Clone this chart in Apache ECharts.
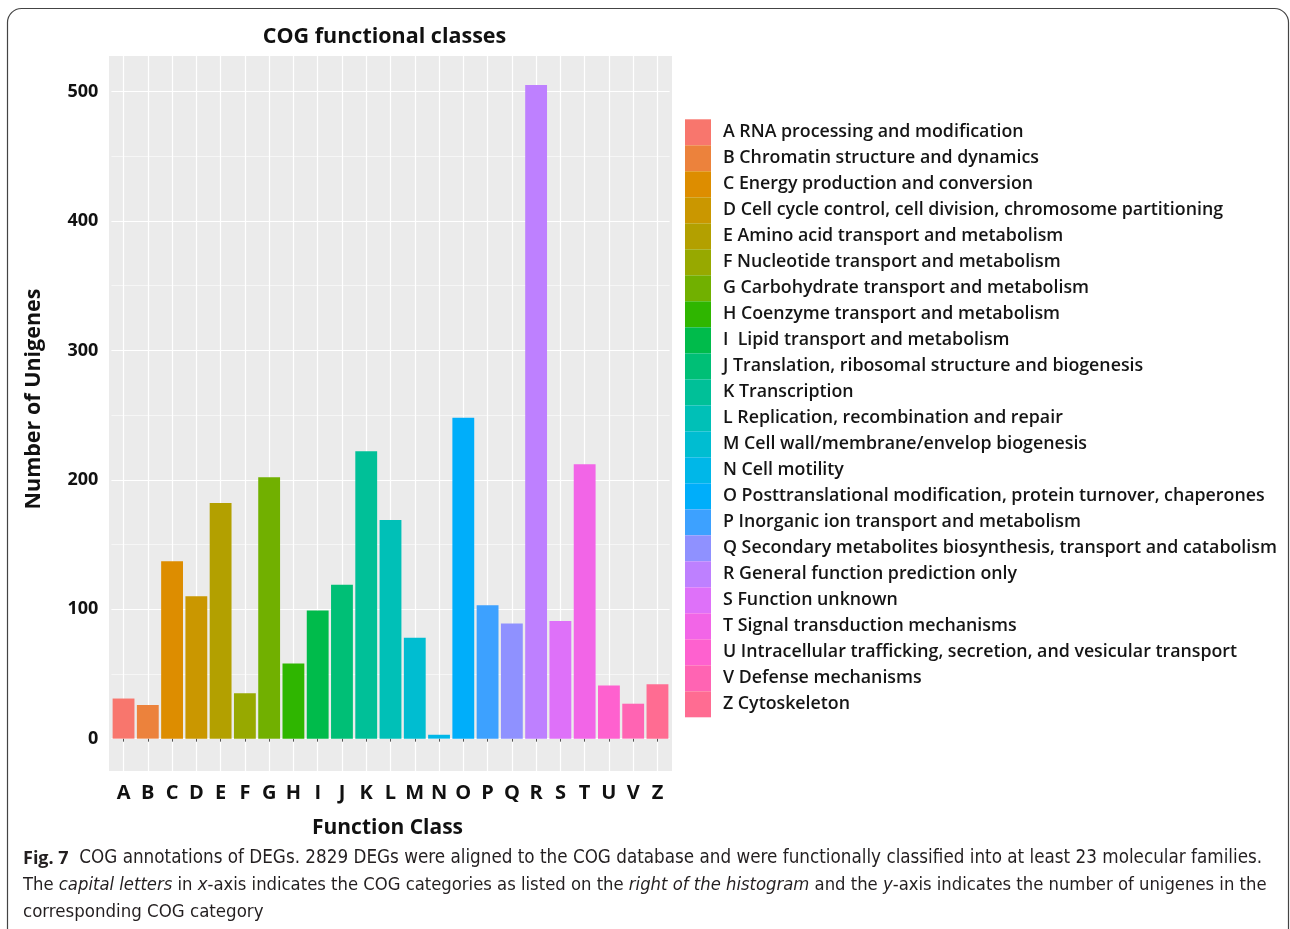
<!DOCTYPE html>
<html>
<head>
<meta charset="utf-8">
<title>COG functional classes</title>
<script src="https://cdn.jsdelivr.net/npm/echarts@6/dist/echarts.min.js"></script>
<style>
  html, body { margin: 0; padding: 0; background: #ffffff; }
  #chart { width: 1290px; height: 929px; }
</style>
</head>
<body>
<div id="chart"></div>
<script>
// COG category letters (x axis)
const categories = ['A','B','C','D','E','F','G','H','I','J','K','L','M','N','O','P','Q','R','S','T','U','V','Z'];

// Category descriptions shown in the key
const descriptions = [
  'RNA processing and modification',
  'Chromatin structure and dynamics',
  'Energy production and conversion',
  'Cell cycle control, cell division, chromosome partitioning',
  'Amino acid transport and metabolism',
  'Nucleotide transport and metabolism',
  'Carbohydrate transport and metabolism',
  'Coenzyme transport and metabolism',
  ' Lipid transport and metabolism',
  'Translation, ribosomal structure and biogenesis',
  'Transcription',
  'Replication, recombination and repair',
  'Cell wall/membrane/envelop biogenesis',
  'Cell motility',
  'Posttranslational modification, protein turnover, chaperones',
  'Inorganic ion transport and metabolism',
  'Secondary metabolites biosynthesis, transport and catabolism',
  'General function prediction only',
  'Function unknown',
  'Signal transduction mechanisms',
  'Intracellular trafficking, secretion, and vesicular transport',
  'Defense mechanisms',
  'Cytoskeleton'
];

// Number of unigenes per category
const counts = [31, 26, 137, 110, 182, 35, 202, 58, 99, 119, 222, 169, 78, 3, 248, 103, 89, 505, 91, 212, 41, 27, 42];

// y-axis tick labels
const yTicks = [0, 100, 200, 300, 400, 500];

// Evenly spaced HCL hues (L=65, C=100), converted to sRGB
function hclToHex(h, c, l) {
  const hr = h * Math.PI / 180;
  const U = c * Math.cos(hr), V = c * Math.sin(hr);
  const Xn = 95.047, Yn = 100.0, Zn = 108.883;
  const den = Xn + 15 * Yn + 3 * Zn;
  const un = 4 * Xn / den, vn = 9 * Yn / den;
  const Y = Yn * (l > 7.999592 ? Math.pow((l + 16) / 116, 3) : l / 903.3);
  const u = U / (13 * l) + un, v = V / (13 * l) + vn;
  const X = 9.0 * Y * u / (4 * v);
  const Z = -X / 3 - 5 * Y + 3 * Y / v;
  const lin = [
    ( 3.240479 * X - 1.537150 * Y - 0.498535 * Z) / Yn,
    (-0.969256 * X + 1.875992 * Y + 0.041556 * Z) / Yn,
    ( 0.055648 * X - 0.204043 * Y + 1.057311 * Z) / Yn
  ];
  return '#' + lin.map(t => {
    let g = t > 0.00304 ? 1.055 * Math.pow(t, 1 / 2.4) - 0.055 : 12.92 * t;
    g = Math.max(0, Math.min(1, g));
    return Math.round(g * 255).toString(16).padStart(2, '0');
  }).join('');
}
const n = categories.length;
const palette = categories.map((_, i) => hclToHex(15 + i * 360 / n, 100, 65));

// y axis runs on a 25-unit step; only whole hundreds (major) and fifties (minor) get a line
const Y_MIN = -25, Y_MAX = 527.5, Y_STEP = 25;
const tickCount = Math.floor((Y_MAX - Y_MIN) / Y_STEP) + 2;
const splitColors = [];
for (let i = 0; i < tickCount; i++) {
  const v = Y_MIN + i * Y_STEP;
  if (i === tickCount - 1) { splitColors.push('rgba(0,0,0,0)'); continue; }
  if (v >= 0 && yTicks.includes(v)) splitColors.push('#ffffff');
  else if (v > 0 && v % 50 === 0) splitColors.push('#f6f6f6');
  else splitColors.push('rgba(0,0,0,0)');
}

const FONT = "'Open Sans', 'DejaVu Sans', sans-serif";
const CAPTION_FONT = "'Liberation Sans Narrow', 'DejaVu Sans Condensed', 'Open Sans', sans-serif";

// One stacked series per category so each one gets its own key entry
const series = categories.map((c, i) => ({
  name: c + ' ' + descriptions[i],
  type: 'bar',
  stack: 'cog',
  barWidth: '90%',
  itemStyle: { color: palette[i] },
  emphasis: { disabled: true },
  data: categories.map((_, j) => (j === i ? counts[i] : '-'))
}));

const chart = echarts.init(document.getElementById('chart'), null, { renderer: 'canvas' });

chart.setOption({
  animation: false,
  backgroundColor: '#ffffff',
  title: {
    text: 'COG functional classes',
    left: 384.5,
    top: 25.5,
    padding: 0,
    textAlign: 'center',
    textStyle: { fontFamily: FONT, fontSize: 21.5, fontWeight: 'bold', color: '#111111' }
  },
  legend: {
    orient: 'vertical',
    left: 685,
    top: 119.3,
    padding: 0,
    itemWidth: 26,
    itemHeight: 26,
    itemGap: 0,
    icon: 'rect',
    selectedMode: false,
    data: series.map(s => s.name),
    textStyle: { fontFamily: FONT, fontSize: 17.8, fontWeight: 600, color: '#151515', padding: [0, 0, 3, 7] }
  },
  grid: { left: 111.4, top: 56, width: 558.2, height: 715, containLabel: false },
  xAxis: {
    type: 'category',
    data: categories,
    name: 'Function Class',
    nameLocation: 'middle',
    nameGap: 47,
    nameTextStyle: { fontFamily: FONT, fontSize: 21, fontWeight: 'bold', color: '#111111', padding: [0, 6, 0, 0] },
    axisLine: { show: false },
    axisTick: { show: true, alignWithLabel: true, length: 3, lineStyle: { color: '#555555' } },
    axisLabel: { interval: 0, margin: 12, fontFamily: FONT, fontSize: 20, fontWeight: 'bold', color: '#111111' },
    splitLine: { show: true, alignWithLabel: true, lineStyle: { color: '#ffffff', width: 1.2 } }
  },
  yAxis: {
    type: 'value',
    min: Y_MIN,
    max: Y_MAX,
    interval: Y_STEP,
    axisLine: { show: false },
    axisTick: { show: false },
    axisLabel: {
      margin: 13,
      fontFamily: FONT, fontSize: 18, fontWeight: 'bold', color: '#111111',
      formatter: v => (yTicks.includes(v) ? String(v) : '')
    },
    splitLine: { show: true, lineStyle: { color: splitColors, width: 1.2 } }
  },
  graphic: [
    // figure frame
    {
      type: 'rect', z: -20, silent: true,
      shape: { x: 7.5, y: 8.5, width: 1281, height: 960, r: 14 },
      style: { fill: 'none', stroke: '#444444', lineWidth: 1.2 }
    },
    // plot panel background
    {
      type: 'rect', z: -10, silent: true,
      shape: { x: 109, y: 56, width: 563, height: 715 },
      style: { fill: '#ebebeb' }
    },
    // y axis title
    {
      type: 'text', x: 34, y: 399, rotation: Math.PI / 2, silent: true,
      style: {
        text: 'Number of Unigenes',
        fontFamily: FONT, fontSize: 21.5, fontWeight: 'bold', fill: '#111111',
        align: 'center', verticalAlign: 'middle'
      }
    },
    // caption
    {
      type: 'text', left: 23, top: 849, silent: true,
      style: {
        text: '{b|Fig. 7}  COG annotations of DEGs. 2829 DEGs were aligned to the COG database and were functionally classified into at least 23 molecular families.',
        fontFamily: CAPTION_FONT, fontSize: 18.7, fill: '#231f20',
        rich: { b: { fontFamily: FONT, fontWeight: 'bold', fontSize: 18, fill: '#231f20' } }
      }
    },
    {
      type: 'text', left: 23, top: 876, silent: true,
      style: {
        text: 'The {i|capital letters} in {i|x}-axis indicates the COG categories as listed on the {i|right of the histogram} and the {i|y}-axis indicates the number of unigenes in the',
        fontFamily: CAPTION_FONT, fontSize: 18.3, fill: '#231f20',
        rich: { i: { fontFamily: CAPTION_FONT, fontStyle: 'italic', fontSize: 18.3, fill: '#231f20' } }
      }
    },
    {
      type: 'text', left: 23, top: 903, silent: true,
      style: {
        text: 'corresponding COG category',
        fontFamily: CAPTION_FONT, fontSize: 18.5, fill: '#231f20'
      }
    }
  ],
  series: series
});
</script>
</body>
</html>
